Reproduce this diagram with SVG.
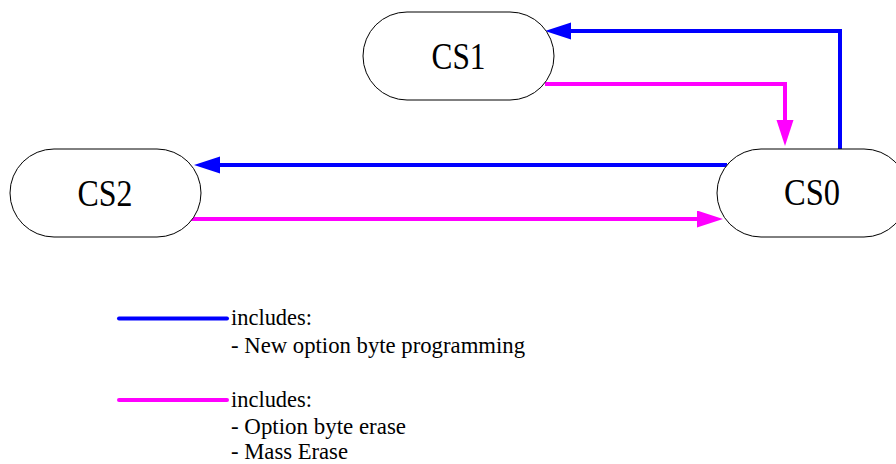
<svg xmlns="http://www.w3.org/2000/svg" width="896" height="464" viewBox="0 0 896 464">
<style>
.node rect{fill:#fff;stroke:#000;stroke-width:1}
.node text{font-family:"Liberation Serif","Times New Roman",serif;font-size:38px;fill:#000;text-anchor:middle}
.c{fill:none;stroke-width:4;stroke-linejoin:miter}
.blue{stroke:#0000ff}
.pink{stroke:#ff00ff}
.leg{font-family:"Liberation Serif","Times New Roman",serif;font-size:23.5px;fill:#000}
.ll{stroke-width:4;stroke-linecap:round}
</style>
<defs>
<marker id="ab" markerUnits="userSpaceOnUse" markerWidth="28" markerHeight="18" refX="2" refY="8.5" orient="auto"><path d="M0,0 L26,8.5 L0,17 z" fill="#0000ff"/></marker>
<marker id="ap" markerUnits="userSpaceOnUse" markerWidth="28" markerHeight="18" refX="2" refY="8.5" orient="auto"><path d="M0,0 L26,8.5 L0,17 z" fill="#ff00ff"/></marker>
</defs>
<rect width="896" height="464" fill="#fff"/>
<g id="connectors">
<path class="c blue" d="M840,149 V31 H569" marker-end="url(#ab)"/>
<path class="c pink" d="M545,84 H785 V122" marker-end="url(#ap)"/>
<path class="c blue" d="M727,165 H218" marker-end="url(#ab)"/>
<path class="c pink" d="M190,219 H699" marker-end="url(#ap)"/>
</g>
<g id="CS1" class="node"><rect x="363" y="12" width="191" height="88" rx="44" ry="44"/><text x="458.5" y="69" textLength="54" lengthAdjust="spacingAndGlyphs">CS1</text></g>
<g id="CS2" class="node"><rect x="10" y="149" width="191" height="88" rx="44" ry="44"/><text x="105" y="206" textLength="55" lengthAdjust="spacingAndGlyphs">CS2</text></g>
<g id="CS0" class="node"><rect x="717" y="149" width="191" height="88" rx="44" ry="44"/><text x="812" y="205" textLength="56" lengthAdjust="spacingAndGlyphs">CS0</text></g>
<g id="legend">
<line class="ll blue" x1="119" y1="318.5" x2="227" y2="318.5"/>
<line class="ll pink" x1="119" y1="400" x2="227" y2="400"/>
<text class="leg" x="231" y="325" textLength="81" lengthAdjust="spacingAndGlyphs">includes:</text>
<text class="leg" x="231" y="353" textLength="294" lengthAdjust="spacingAndGlyphs">- New option byte programming</text>
<text class="leg" x="231" y="407" textLength="81" lengthAdjust="spacingAndGlyphs">includes:</text>
<text class="leg" x="231" y="434" textLength="175" lengthAdjust="spacingAndGlyphs">- Option byte erase</text>
<text class="leg" x="231" y="458.5" textLength="117" lengthAdjust="spacingAndGlyphs">- Mass Erase</text>
</g>
</svg>
